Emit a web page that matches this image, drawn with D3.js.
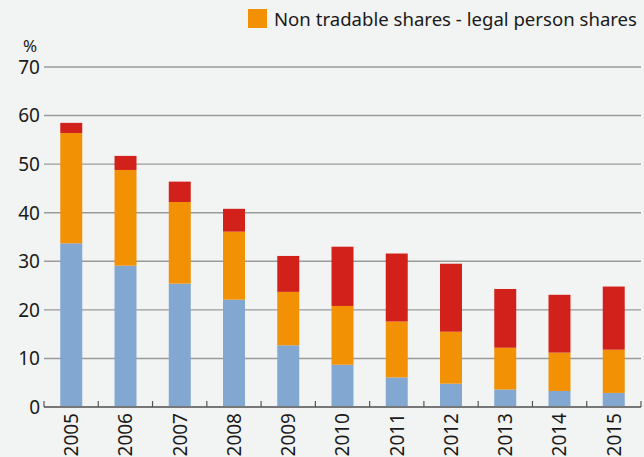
<!DOCTYPE html>
<html>
<head>
<meta charset="utf-8">
<script src="https://cdn.jsdelivr.net/npm/d3@7"></script>
<style>
  body { margin: 0; background: #f2f4f3; }
  svg { display: block; font-family: "Noto Sans", "Open Sans", sans-serif; }
</style>
</head>
<body>
<svg id="svg" width="644" height="457"></svg>
<script>
    var years = ['2005', '2006', '2007', '2008', '2009', '2010', '2011', '2012', '2013', '2014', '2015'];
    // bottom to top
    var tradable = [33.7, 29.1, 25.4, 22.1, 12.7, 8.7, 6.1, 4.8, 3.6, 3.3, 2.9];
    var legalPerson = [22.7, 19.7, 16.8, 14.0, 11.0, 12.1, 11.5, 10.7, 8.6, 7.9, 8.9];
    var stateShares = [2.1, 2.9, 4.2, 4.7, 7.4, 12.2, 14.0, 14.0, 12.1, 11.9, 13.0];
    var yTicks = [0, 10, 20, 30, 40, 50, 60, 70];
    var keys = ['tradable', 'legal', 'state'];
    var colors = ['#82a7d0', '#f29104', '#d2211a'];
    var legendLabel = 'Non tradable shares - legal person shares';

    var rows = years.map(function (y, i) {
        return {year: y, tradable: tradable[i], legal: legalPerson[i], state: stateShares[i]};
    });

    var svg = d3.select("#svg"),
        plotLeft = 44, plotRight = 641, plotTop = 67, plotBottom = 407;

    var x = d3.scaleBand().domain(years).range([plotLeft, plotRight]).paddingInner(0.595).paddingOuter(0.3);
    var y = d3.scaleLinear().domain([0, 70]).range([plotBottom, plotTop]);

    // grid
    svg.append("g").selectAll("line")
        .data(yTicks.slice(1))
        .enter().append("line")
        .attr("x1", plotLeft).attr("x2", plotRight)
        .attr("y1", function (d) { return y(d); })
        .attr("y2", function (d) { return y(d); })
        .attr("stroke", "#9a9a9a")
        .attr("stroke-width", 1.4);

    // bars
    var series = d3.stack().keys(keys)(rows);
    svg.append("g").selectAll("g")
        .data(series)
        .enter().append("g")
        .attr("fill", function (d, i) { return colors[i]; })
        .selectAll("rect")
        .data(function (d) { return d; })
        .enter().append("rect")
        .attr("x", function (d) { return x(d.data.year); })
        .attr("width", x.bandwidth())
        .attr("y", function (d) { return y(d[1]); })
        .attr("height", function (d) { return y(d[0]) - y(d[1]); });

    // x axis line + ticks between bars
    svg.append("line")
        .attr("x1", plotLeft).attr("x2", plotRight)
        .attr("y1", plotBottom).attr("y2", plotBottom)
        .attr("stroke", "#777").attr("stroke-width", 2);
    var step = (plotRight - plotLeft) / years.length;
    svg.append("g").selectAll("line")
        .data(d3.range(years.length + 1))
        .enter().append("line")
        .attr("x1", function (i) { return plotLeft + i * step; })
        .attr("x2", function (i) { return plotLeft + i * step; })
        .attr("y1", plotBottom).attr("y2", plotBottom - 6)
        .attr("stroke", "#555").attr("stroke-width", 1.2);

    // y labels
    svg.append("g").selectAll("text")
        .data(yTicks)
        .enter().append("text")
        .attr("x", 40)
        .attr("y", function (d) { return y(d); })
        .attr("dy", "0.36em")
        .attr("text-anchor", "end")
        .attr("font-size", 19)
        .attr("fill", "#1a1a1a")
        .text(function (d) { return d; });
    svg.append("text")
        .attr("x", 30).attr("y", 52)
        .attr("text-anchor", "middle")
        .attr("font-size", 17)
        .attr("fill", "#1a1a1a")
        .text("%");

    // x labels
    svg.append("g").selectAll("text")
        .data(years)
        .enter().append("text")
        .attr("transform", function (d) {
            return "translate(" + (x(d) + x.bandwidth() / 2) + "," + (plotBottom + 6) + ") rotate(-90)";
        })
        .attr("dy", "0.36em")
        .attr("text-anchor", "end")
        .attr("font-size", 19)
        .attr("fill", "#1a1a1a")
        .text(function (d) { return d; });

    // legend (only the visible item)
    svg.append("rect")
        .attr("x", 248).attr("y", 9)
        .attr("width", 19).attr("height", 19)
        .attr("fill", colors[1]);
    svg.append("text")
        .attr("x", 274).attr("y", 26)
        .attr("font-size", 18)
        .attr("fill", "#1a1a1a")
        .attr("textLength", 363)
        .attr("lengthAdjust", "spacingAndGlyphs")
        .text(legendLabel);
</script>
</body>
</html>
